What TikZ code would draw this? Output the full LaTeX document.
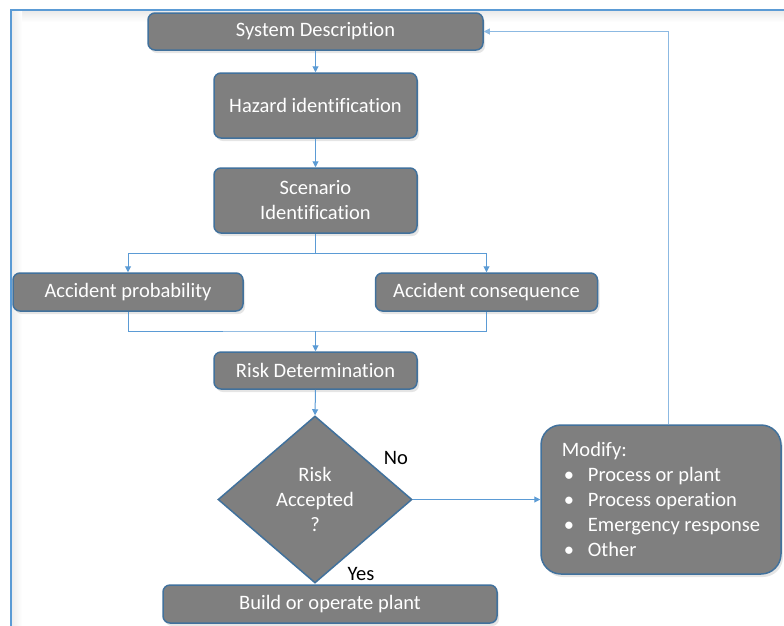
\documentclass[tikz,border=0pt]{standalone}
\usepackage{fontspec}
\setmainfont{Carlito}[RawFeature={-liga;-clig;-calt}]
\usetikzlibrary{arrows.meta,shapes.geometric,shadows}

\definecolor{boxfill}{HTML}{7F7F7F}
\definecolor{boxline}{HTML}{41719C}
\definecolor{linkblue}{HTML}{5B9BD5}

\tikzset{
  stepbox/.style={rectangle, rounded corners=7pt, fill=boxfill, draw=boxline,
    line width=1.5pt, text=white, align=center, inner sep=2pt,
    font=\fontsize{20.5}{25}\selectfont,
    drop shadow={shadow xshift=2pt, shadow yshift=-3pt, opacity=0.2}},
  decision/.style={diamond, aspect=1.16, fill=boxfill, draw=boxline,
    line width=1.5pt, text=white, align=center, inner sep=0pt,
    font=\fontsize{20.5}{25}\selectfont},
  link/.style={draw=linkblue, line width=1pt},
  arrowlink/.style={link, -{Triangle[length=6pt,width=6pt]}},
  answer/.style={text=black, font=\fontsize{20.5}{25}\selectfont, inner sep=0pt},
}

\newcommand{\itemmark}{\makebox[26pt][l]{\hspace{2pt}•}}

\begin{document}
\begin{tikzpicture}[x=1pt, y=-1pt]
  \useasboundingbox (0,0) rectangle (784,625);
  \fill[white] (0,0) rectangle (784,625);
  \clip (0,0) rectangle (784,625);

  % outer frame with its soft inner shade
  \shade[top color=black!8, bottom color=white] (12,11) rectangle (784,22);
  \shade[left color=black!7, right color=white] (12,11) rectangle (22,625);
  \draw[draw=linkblue, line width=2pt] (11,10) rectangle (900,700);

  % process steps
  \node[stepbox, minimum width=335pt, minimum height=37pt] (sd) at (315.5,31.5) {System Description};
  \node[stepbox, minimum width=203pt, minimum height=65pt] (haz) at (315.5,105.5) {Hazard identification};
  \node[stepbox, minimum width=203pt, minimum height=65pt] (scen) at (315.5,200.5) {Scenario\\Identification};
  \node[stepbox, minimum width=230pt, minimum height=38pt] (prob) at (128,292) {Accident probability};
  \node[stepbox, minimum width=222pt, minimum height=38pt] (cons) at (486.5,292) {Accident consequence};
  \node[stepbox, minimum width=203pt, minimum height=37pt] (risk) at (315.5,370.5) {Risk Determination};
  \node[decision, minimum width=194pt, minimum height=167pt] (dia) at (315,499.5) {Risk\\Accepted\\?};
  \node[stepbox, minimum width=334pt, minimum height=38pt] (build) at (330,604) {Build or operate plant};
  \node[stepbox, rounded corners=20pt, minimum width=240pt, minimum height=149pt,
        align=left] (mod) at (661,499.5)
    {Modify:\\
     \itemmark Process or plant\\
     \itemmark Process operation\\
     \itemmark Emergency response\\
     \itemmark Other};

  % answers of the decision
  \node[answer] (no) at (396,458) {No};
  \node[answer] (yes) at (361,574) {Yes};

  % connectors
  \coordinate (split) at (315.5,253);
  \coordinate (merge) at (315.5,331);
  \draw[arrowlink] (sd.south) -- (haz.north);
  \draw[arrowlink] (haz.south) -- (scen.north);
  \draw[link] (scen.south) -- (split);
  \draw[arrowlink] (split) -| (prob.north);
  \draw[arrowlink] (split) -| (cons.north);
  \draw[link] (prob.south) |- (merge) -| (cons.south);
  \draw[arrowlink] (merge) -- (risk.north);
  \draw[arrowlink] (risk.south) -- (dia.north);
  \draw[arrowlink] (dia.east) -- (mod.west);
  \draw[arrowlink, draw=linkblue!70] (mod.north) ++(7,0) |- (sd.east);
\end{tikzpicture}
\end{document}
